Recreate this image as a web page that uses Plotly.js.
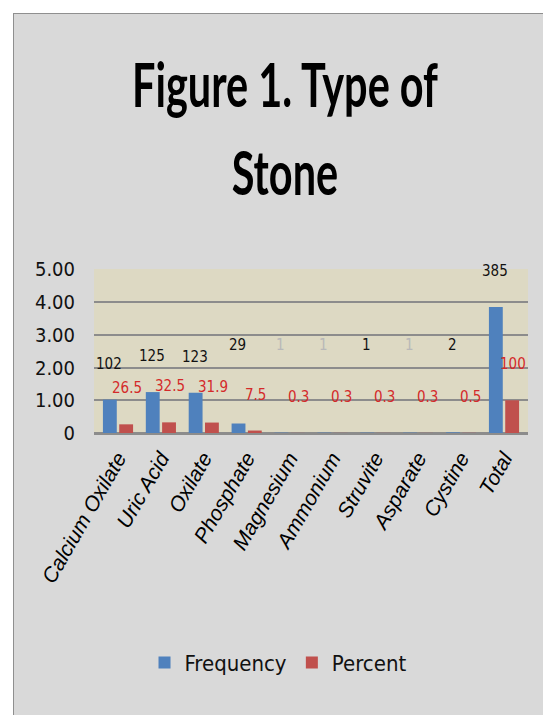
<!DOCTYPE html>
<html>
<head>
<meta charset="utf-8">
<script src="https://cdn.plot.ly/plotly-3.0.1.min.js"></script>
<style>
  html, body { margin: 0; padding: 0; background: #ffffff; width: 543px; height: 715px; overflow: hidden; }
  #panel { position: absolute; left: 13px; top: 13px; width: 540px; height: 720px; background: #d9d9d9;
           border-left: 1px solid #8f8f8f; border-top: 1px solid #8f8f8f; }
  #chart { position: absolute; left: 0; top: 0; width: 543px; height: 715px; }
</style>
</head>
<body>
<div id="panel"></div>
<div id="chart"></div>
<script>
// ---- data ----
const categories = ["Calcium Oxilate", "Uric Acid", "Oxilate", "Phosphate", "Magnesium",
                    "Ammonium", "Struvite", "Asparate", "Cystine", "Total"];
const frequency = [102, 125, 123, 29, 1, 1, 1, 1, 2, 385];
const percent = [26.5, 32.5, 31.9, 7.5, 0.3, 0.3, 0.3, 0.3, 0.5, 100];
const freqLabels = ["102", "125", "123", "29", "1", "1", "1", "1", "2", "385"];
const pctLabels = ["26.5", "32.5", "31.9", "7.5", "0.3", "0.3", "0.3", "0.3", "0.5", "100"];
const yTickVals = [0, 100, 200, 300, 400, 500];
const yTickText = ["0", "1.00", "2.00", "3.00", "4.00", "5.00"];

const narrow = "DejaVu Sans Condensed, sans-serif";
const titleFont = "Lato, sans-serif";

const traces = [
  { type: "bar", name: "Frequency", x: categories, y: frequency, marker: { color: "#4f81bd" }, hoverinfo: "skip" },
  { type: "bar", name: "Percent", x: categories, y: percent, marker: { color: "#c0504d" }, hoverinfo: "skip" }
];

const annotations = [];
categories.forEach((c, i) => {
  const faint = frequency[i] < 2 && c !== "Struvite";
  annotations.push({
    x: c, y: frequency[i] > 50 ? frequency[i] + 110 : 270, xref: "x", yref: "y",
    text: freqLabels[i], showarrow: false, xshift: -9,
    font: { family: narrow, size: 15, color: faint ? "#b8b8b8" : "#111111" }
  });
  annotations.push({
    x: c, y: percent[i] + 110, xref: "x", yref: "y",
    text: pctLabels[i], showarrow: false, xshift: 9,
    font: { family: narrow, size: 15, color: "#d42a2a" }
  });
});

const layout = {
  width: 543, height: 715,
  margin: { l: 94, r: 15, t: 269, b: 282 },
  paper_bgcolor: "rgba(0,0,0,0)",
  plot_bgcolor: "#ddd9c3",
  title: {
    text: "Figure 1. Type of<br>Stone",
    font: { family: titleFont, size: 62, color: "#000000", weight: "bold" },
    xref: "container", x: 0.525, xanchor: "center",
    yref: "container", y: 0.851, yanchor: "top"
  },
  barmode: "group", bargap: 0.24, bargroupgap: 0.15,
  showlegend: true,
  legend: {
    orientation: "h", xref: "container", yref: "container",
    x: 0.512, xanchor: "center", y: 0.073, yanchor: "middle",
    font: { family: narrow, size: 22, color: "#111111" },
    bgcolor: "rgba(0,0,0,0)", itemwidth: 30
  },
  xaxis: {
    type: "category", tickangle: -60, showgrid: false, showline: false, zeroline: false,
    ticks: "", ticklabelstandoff: 8,
    tickfont: { family: "Liberation Sans, sans-serif", size: 21, style: "italic", color: "#000000" }
  },
  yaxis: {
    range: [0, 501], tickvals: yTickVals, ticktext: yTickText,
    showgrid: true, gridcolor: "#8c8c8c", gridwidth: 2,
    zeroline: true, zerolinecolor: "#8c8c8c", zerolinewidth: 3,
    showline: false, ticks: "", ticklabelstandoff: 18,
    tickfont: { family: narrow, size: 20, color: "#111111" }
  },
  annotations: annotations
};

Plotly.newPlot("chart", traces, layout, { displayModeBar: false, staticPlot: true }).then(() => {
  const g = document.querySelector(".g-gtitle");
  const txt = g && g.querySelector("text");
  if (!txt) return;
  const lines = txt.querySelectorAll("tspan.line");
  if (lines.length > 1) lines[1].setAttribute("dy", "1.42em");
  const r = txt.getBoundingClientRect();
  const s = 306 / r.width;
  const cx = r.left + r.width / 2;
  g.setAttribute("transform", `translate(285,0) scale(${s},1) translate(${-cx},0)`);
});
</script>
</body>
</html>
